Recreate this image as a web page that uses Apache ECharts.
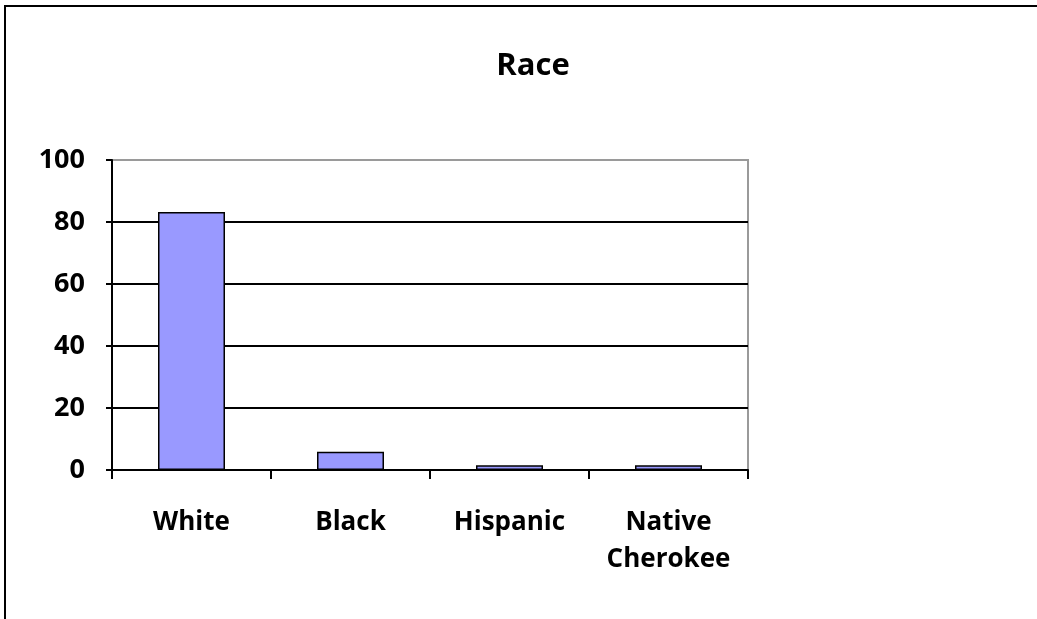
<!DOCTYPE html>
<html>
<head>
<meta charset="utf-8">
<script src="https://cdn.jsdelivr.net/npm/echarts@6/dist/echarts.min.js"></script>
<style>
  html, body { margin: 0; padding: 0; background: #fff; }
  #chart { width: 1037px; height: 619px; }
</style>
</head>
<body>
<div id="chart"></div>
<script>
// Race breakdown (percent)
const categories = ['White', 'Black', 'Hispanic', 'Native\nCherokee'];
const values = [83.2, 5.9, 1.5, 1.5];
const yTicks = [0, 20, 40, 60, 80, 100];

const FONT = '"Open Sans"';
const chart = echarts.init(document.getElementById('chart'), null, { renderer: 'canvas' });

chart.setOption({
  backgroundColor: '#ffffff',
  animation: false,
  title: {
    text: 'Race',
    left: 528,
    top: 46,
    textAlign: 'center',
    textStyle: { fontFamily: FONT, fontWeight: 'bold', fontSize: 31, color: '#000' }
  },
  graphic: [{
    type: 'rect',
    shape: { x: 5, y: 6, width: 1100, height: 700 },
    style: { fill: 'none', stroke: '#000', lineWidth: 2 },
    silent: true
  }],
  grid: { left: 112, right: 289, top: 160, bottom: 149, show: true, borderColor: '#9a9a9a', borderWidth: 2, backgroundColor: 'transparent' },
  xAxis: {
    type: 'category',
    data: categories,
    axisLine: { lineStyle: { color: '#000', width: 2 } },
    axisTick: { show: true, interval: 0, length: 9, lineStyle: { color: '#000', width: 2 } },
    axisLabel: {
      interval: 0, margin: 34, fontFamily: FONT, fontWeight: 'bold', fontSize: 26, color: '#000', lineHeight: 37
    }
  },
  yAxis: {
    type: 'value',
    min: yTicks[0],
    max: yTicks[yTicks.length - 1],
    interval: 20,
    axisLine: { show: true, lineStyle: { color: '#000', width: 2 } },
    axisTick: { show: true, length: 6, lineStyle: { color: '#000', width: 2 } },
    axisLabel: { margin: 27, fontFamily: FONT, fontWeight: 'bold', fontSize: 27, color: '#000' },
    splitLine: { show: true, lineStyle: { color: ['#000', '#000', '#000', '#000', '#000', '#9a9a9a'], width: 2 } }
  },
  series: [{
    type: 'bar',
    data: values,
    barWidth: 67,
    itemStyle: { color: '#9999ff', borderColor: '#000', borderWidth: 1.5 }
  }]
});
</script>
</body>
</html>
